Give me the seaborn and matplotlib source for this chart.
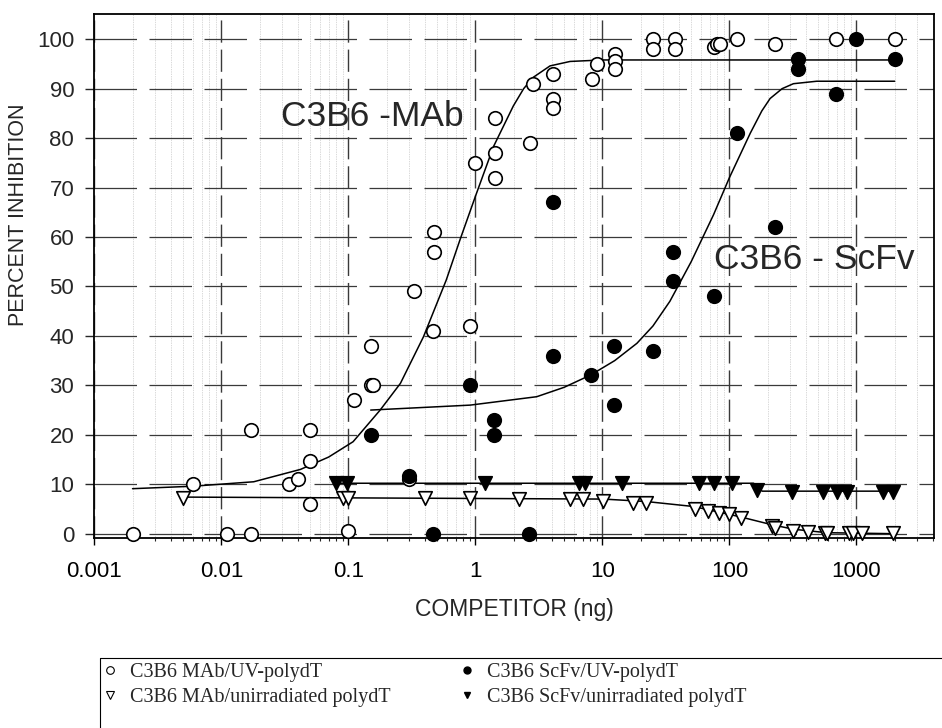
import matplotlib
matplotlib.use("Agg")
import matplotlib.pyplot as plt
import seaborn as sns
from matplotlib.lines import Line2D
from matplotlib.ticker import FixedLocator, LogLocator, NullFormatter

# Valores
mab_uv_x = [0.002, 0.006, 0.011, 0.017, 0.017, 0.034, 0.040, 0.05, 0.05, 0.05,
            0.1, 0.11, 0.15, 0.155, 0.15, 0.3, 0.33, 0.46, 0.47, 0.47, 0.9, 1.0,
            1.43, 1.43, 1.43, 2.7, 2.86, 4.1, 4.1, 4.1, 8.3, 9.0, 12.6, 12.6, 12.6,
            25, 25, 37, 37, 75, 80, 85, 115, 229, 692, 2000]
mab_uv_y = [0, 10, 0, 0, 21, 10, 11, 14.8, 6, 21,
            0.6, 27, 30, 30, 38, 11, 49, 41, 57, 61, 42, 75,
            84, 77, 72, 79, 91, 93, 88, 86, 92, 95, 97, 95.5, 94,
            100, 98, 100, 98, 98.5, 99, 99, 100, 99, 100, 100]

scfv_uv_x = [0.15, 0.3, 0.46, 0.9, 1.4, 1.4, 2.66, 4.07, 4.07, 8.1, 12.4, 12.4,
             25, 36, 36, 75, 114, 229, 349, 349, 692, 1000, 2000]
scfv_uv_y = [20, 11.7, 0, 30, 23, 20, 0, 67, 36, 32, 38, 26,
             37, 57, 51, 48, 81, 62, 96, 94, 89, 100, 96]

mab_un_x = [0.005, 0.09, 0.1, 0.4, 0.91, 2.22, 5.6, 7.0, 10.1, 17.5, 22, 54, 68,
            83, 100, 124, 216, 229, 316, 419, 567, 585, 866, 947, 1104, 1936]
mab_un_y = [7.3, 7.3, 7.3, 7.3, 7.3, 7.1, 7.1, 7.0, 6.6, 6.3, 6.3, 5.0, 4.6,
            4.1, 3.9, 3.1, 1.6, 1.1, 0.6, 0.3, 0.2, 0.2, 0.2, 0.2, 0.2, 0.2]

scfv_un_x = [0.08, 0.097, 1.19, 6.5, 7.3, 14.2, 58, 75, 104, 164, 310, 549, 701,
             840, 1633, 1955]
scfv_un_y = [10.2, 10.2, 10.2, 10.2, 10.2, 10.2, 10.2, 10.2, 10.2, 8.8, 8.4, 8.4,
             8.4, 8.4, 8.4, 8.4]

# Curvas ajustadas (puntos leídos sobre las líneas)
mab_fit_x = [0.002, 0.006, 0.018, 0.042, 0.07, 0.109, 0.178, 0.257, 0.39, 0.59,
             0.756, 1.0, 1.39, 1.99, 2.4, 2.86, 3.87, 5.57, 10, 2000]
mab_fit_y = [9.1, 9.6, 10.5, 13.0, 15.5, 18.6, 25.0, 30.4, 39.8, 51.3,
             59.4, 68.2, 78.3, 86.5, 90.0, 92.3, 94.6, 95.5, 95.8, 95.8]

scfv_fit_x = [0.15, 0.91, 3.04, 5.0, 8.1, 12.5, 18.7, 25, 34, 50, 75, 100, 146,
              180, 209, 260, 319, 487, 2000]
scfv_fit_y = [25.0, 26.0, 27.7, 29.6, 32.1, 35.0, 38.5, 42.0, 47.0, 55.0, 64.5,
              72.0, 81.0, 85.5, 88.0, 90.0, 91.0, 91.5, 91.5]

mab_un_fit_x = [0.005, 10.2, 22.2, 52, 122, 209, 319, 585, 1955]
mab_un_fit_y = [7.4, 7.0, 6.5, 5.5, 3.4, 1.9, 0.9, 0.2, 0.0]

scfv_un_fit_x = [0.08, 155, 181, 1955]
scfv_un_fit_y = [10.2, 10.2, 8.6, 8.6]

x_ticks = [0.001, 0.01, 0.1, 1, 10, 100, 1000]
x_tick_labels = ['0.001', '0.01', '0.1', '1', '10', '100', '1000']
y_ticks = list(range(0, 101, 10))

legend_labels = ['C3B6 MAb/UV-polydT', 'C3B6 MAb/unirradiated polydT',
                 'C3B6 ScFv/UV-polydT', 'C3B6 ScFv/unirradiated polydT']

sns.set_style("ticks")
plt.rcParams['font.family'] = ['Liberation Sans', 'DejaVu Sans']

fig = plt.figure(figsize=(9.42, 7.28), dpi=100)
ax = fig.add_axes([0.1001, 0.2606, 0.8917, 0.7202])
ax.set_xscale('log')

# Curvas
line_kw = dict(color='black', lw=1.1, estimator=None, sort=False, legend=False, ax=ax)
sns.lineplot(x=mab_fit_x, y=mab_fit_y, **line_kw)
sns.lineplot(x=scfv_fit_x, y=scfv_fit_y, **line_kw)
sns.lineplot(x=mab_un_fit_x, y=mab_un_fit_y, **line_kw)
sns.lineplot(x=scfv_un_fit_x, y=scfv_un_fit_y, **line_kw)

# Puntos
pt_kw = dict(s=95, edgecolor='black', linewidth=1.2, ax=ax, zorder=3, clip_on=False, legend=False)
sns.scatterplot(x=mab_un_x, y=mab_un_y, marker='v', color='white', **pt_kw)
sns.scatterplot(x=scfv_un_x, y=scfv_un_y, marker='v', color='black', **pt_kw)
sns.scatterplot(x=mab_uv_x, y=mab_uv_y, marker='o', color='white', **pt_kw)
sns.scatterplot(x=scfv_uv_x, y=scfv_uv_y, marker='o', color='black', **pt_kw)

ax.set_xlim(0.001, 4100)
ax.set_ylim(-0.93, 105.1)
ax.xaxis.set_major_locator(FixedLocator(x_ticks))
ax.set_xticklabels(x_tick_labels)
ax.xaxis.set_minor_locator(LogLocator(base=10, subs=range(2, 10), numticks=20))
ax.xaxis.set_minor_formatter(NullFormatter())
ax.set_yticks(y_ticks)

ax.grid(which='major', axis='y', color='#3a3a3a', lw=0.9, linestyle=(0, (34, 10)))
ax.grid(which='major', axis='x', color='#3a3a3a', lw=1.0, linestyle=(0, (16, 5)))
ax.grid(which='minor', axis='x', color='#b4b4b4', lw=0.5, linestyle=(0, (1, 1.5)))
ax.set_axisbelow(True)

ax.tick_params(axis='x', which='major', length=5, width=1, pad=11, labelsize=16, colors='black')
ax.tick_params(axis='x', which='minor', length=2.5, width=0.8)
ax.tick_params(axis='y', which='major', length=6.5, width=1, pad=8, labelsize=16)
for sp in ax.spines.values():
    sp.set_visible(True)
    sp.set_color('black')
    sp.set_linewidth(1.3)

ax.set_xlabel('COMPETITOR (ng)', fontsize=16.5, labelpad=12)
ax.set_ylabel('PERCENT INHIBITION', fontsize=15.5)
ax.yaxis.set_label_coords(-0.078, 0.617)

ax.text(0.154, 84.4, 'C3B6 -MAb', fontsize=25.5, ha='center', va='center')
ax.text(462, 55.4, 'C3B6 - ScFv', fontsize=25.5, ha='center', va='center')

# Leyenda abajo
handles = [
    Line2D([], [], marker='o', ls='', mfc='white', mec='black', ms=5.5, mew=0.8),
    Line2D([], [], marker='v', ls='', mfc='white', mec='black', ms=6, mew=0.8),
    Line2D([], [], marker='o', ls='', mfc='black', mec='black', ms=5),
    Line2D([], [], marker='v', ls='', mfc='black', mec='black', ms=5),
]
fig.legend(handles, legend_labels, ncol=2, loc='upper left',
           bbox_to_anchor=(102 / 942, 1 - 663 / 728), frameon=False,
           prop={'family': 'Liberation Serif', 'size': 14.5},
           handlelength=0.8, handletextpad=0.6, columnspacing=3.4,
           labelspacing=0.3, borderaxespad=0, borderpad=0)
fig.add_artist(Line2D([100 / 942, 1], [1 - 658 / 728] * 2, transform=fig.transFigure,
                      color='black', lw=0.8))
fig.add_artist(Line2D([100 / 942, 100 / 942], [0, 1 - 658 / 728], transform=fig.transFigure,
                      color='black', lw=0.8))

fig.savefig('out.png', dpi=100)
